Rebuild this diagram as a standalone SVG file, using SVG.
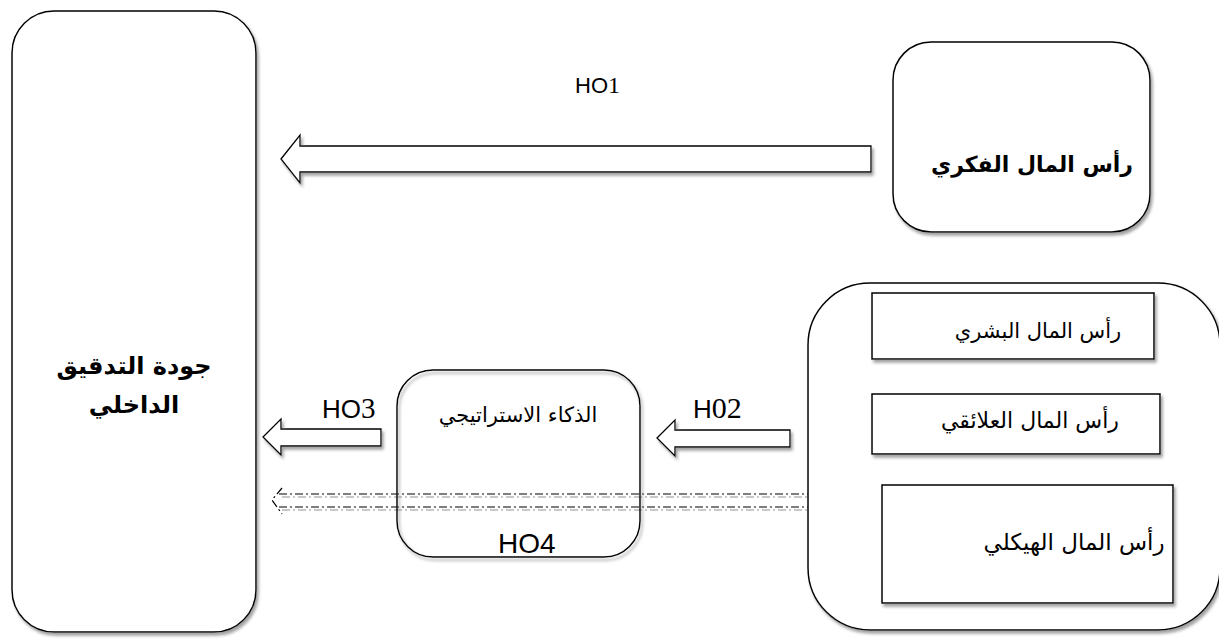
<svg xmlns="http://www.w3.org/2000/svg" width="1219" height="639" viewBox="0 0 1219 639">
  <defs>
    <filter id="shadow" x="-10%" y="-10%" width="130%" height="130%">
      <feDropShadow dx="2" dy="3" stdDeviation="1.5" flood-color="#8a8a8a" flood-opacity="0.8"/>
    </filter>
  </defs>
  <style>
    .box { fill: #fff; stroke: #000; stroke-width: 1.5; filter: url(#shadow); }
    .open { fill: none; stroke: #000; stroke-width: 1.5; filter: url(#shadow); }
    .arrow { fill: #fff; stroke: #000; stroke-width: 1.3; filter: url(#shadow); }
    .dash { fill: none; stroke: #000; stroke-width: 1.2; stroke-dasharray: 8 3 2 3; }
    .dash-shade { fill: none; stroke: #b5b5b5; stroke-width: 1.6; stroke-dasharray: 8 3 2 3; }
    .ar { font-family: "DejaVu Sans", "Liberation Serif", serif; fill: #000; text-anchor: middle; direction: rtl; }
    .arb { font-family: "DejaVu Sans", "Liberation Sans", sans-serif; font-weight: bold; fill: #000; text-anchor: middle; direction: rtl; }
    .lbl { font-family: "Liberation Sans", Arial, sans-serif; fill: #000; }
    .num { font-family: "Liberation Serif", "Times New Roman", serif; }
  </style>

  <!-- connectors -->
  <g id="connectors">
    <polygon class="arrow" points="281,159 300,135 300,146 871,146 871,172 300,172 300,183"/>
    <polygon class="arrow" points="263,437 281,419 281,429 381,429 381,446 281,446 281,455"/>
    <polygon class="arrow" points="657,438 675,420 675,430 790,430 790,447 675,447 675,456"/>
    <g id="ho4-arrow">
      <line class="dash-shade" x1="282" y1="497" x2="808" y2="497"/>
      <line class="dash-shade" x1="282" y1="510" x2="808" y2="510"/>
      <line class="dash" x1="279" y1="494" x2="808" y2="494"/>
      <line class="dash" x1="279" y1="507" x2="808" y2="507"/>
      <path class="dash" d="M282,488 L272,500 L282,514"/>
    </g>
    <text class="lbl" x="575" y="93" font-size="22">HO<tspan class="num" font-size="24">1</tspan></text>
    <text class="lbl" x="322" y="418" font-size="26">HO<tspan class="num" font-size="29">3</tspan></text>
    <text class="lbl" x="693" y="418" font-size="26">H<tspan class="num" font-size="30">02</tspan></text>
    <text class="lbl" x="498" y="553" font-size="28">HO4</text>
  </g>

  <!-- internal audit quality -->
  <g id="node-audit">
    <rect class="box" x="12" y="11" width="244" height="621" rx="42" ry="42"/>
    <text class="arb" x="134" y="374" font-size="24">جودة التدقيق</text>
    <text class="arb" x="134" y="413" font-size="24">الداخلي</text>
  </g>

  <!-- intellectual capital -->
  <g id="node-ic">
    <rect class="box" x="893" y="42" width="257" height="190" rx="38" ry="38"/>
    <text class="arb" x="1032" y="172" font-size="22">رأس المال الفكري</text>
  </g>

  <!-- strategic intelligence -->
  <g id="node-si">
    <rect class="open" x="397" y="370" width="243" height="187" rx="36" ry="36"/>
    <text class="ar" x="518" y="422" font-size="21">الذكاء الاستراتيجي</text>
  </g>

  <!-- components of intellectual capital -->
  <g id="node-components">
    <rect class="box" x="808" y="283" width="412" height="347" rx="62" ry="62"/>
  </g>
  <g id="node-human">
    <rect class="box" x="872" y="293" width="282" height="66"/>
    <text class="ar" x="1038" y="338" font-size="21">رأس المال البشري</text>
  </g>
  <g id="node-relational">
    <rect class="box" x="872" y="394" width="288" height="60"/>
    <text class="ar" x="1030" y="428" font-size="22">رأس المال العلائقي</text>
  </g>
  <g id="node-structural">
    <rect class="box" x="882" y="485" width="291" height="118"/>
    <text class="ar" x="1074" y="550" font-size="23">رأس المال الهيكلي</text>
  </g>
</svg>
